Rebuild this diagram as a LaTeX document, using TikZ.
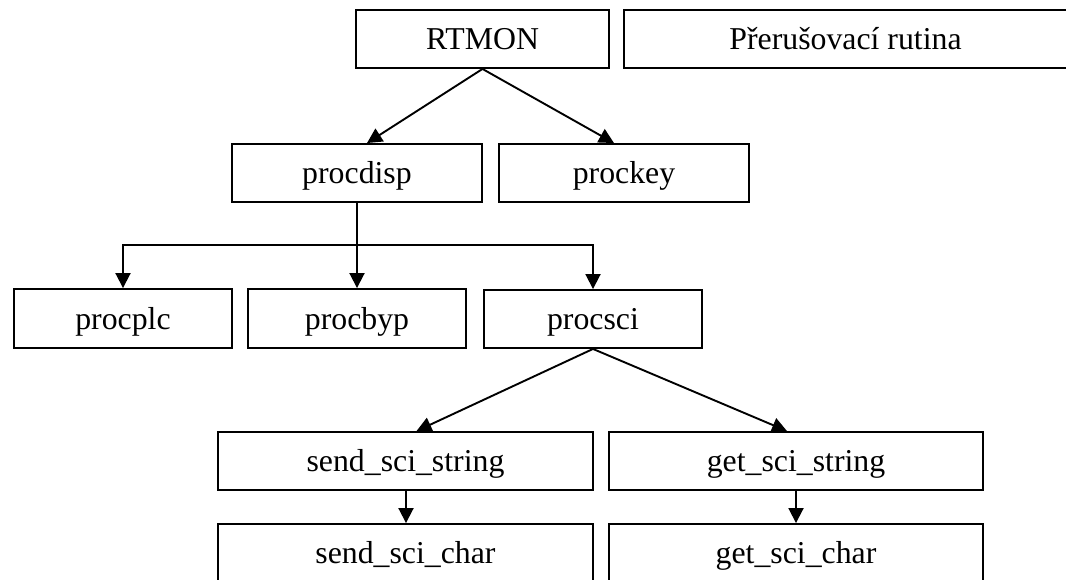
\documentclass[tikz,border=0pt]{standalone}
\usepackage{fontspec}
\setmainfont{Liberation Serif}
\usetikzlibrary{arrows.meta}
\begin{document}
\begin{tikzpicture}[x=1pt,y=-1pt,
  box/.style={draw=black,line width=1.9pt,inner sep=0pt,minimum height=58pt,
    text height=21pt,text depth=0pt,
    font=\fontsize{31.8}{38}\selectfont},
  arr/.style={line width=1.9pt,-{Triangle[length=15pt,width=15pt]}}]
\useasboundingbox (0,0) rectangle (1066,580);
\clip (0,0) rectangle (1066,580);
\node[box,minimum width=253pt] (rtmon) at (482.5,39) {RTMON};
\node[box,minimum width=443pt] (prer) at (845.5,39) {Přerušovací rutina};
\node[box,minimum width=250pt] (procdisp) at (357,173) {procdisp};
\node[box,minimum width=250pt] (prockey) at (624,173) {prockey};
\node[box,minimum width=218pt,minimum height=59pt] (procplc) at (123,318.5) {procplc};
\node[box,minimum width=218pt,minimum height=59pt] (procbyp) at (357,318.5) {procbyp};
\node[box,minimum width=218pt] (procsci) at (593,319) {procsci};
\node[box,minimum width=375pt] (sendstr) at (405.5,461) {send\_sci\_string};
\node[box,minimum width=374pt] (getstr) at (796,461) {get\_sci\_string};
\node[box,minimum width=375pt] (sendchr) at (405.5,553) {send\_sci\_char};
\node[box,minimum width=374pt] (getchr) at (796,553) {get\_sci\_char};
\coordinate (bus) at (357,245);
\draw[arr] (rtmon.south) -- ([xshift=10pt]procdisp.north);
\draw[arr] (rtmon.south) -- ([xshift=-10pt]prockey.north);
\draw[arr] (procdisp.south) -- (procbyp.north);
\draw[arr] (bus) -| (procplc.north);
\draw[arr] (bus) -| (procsci.north);
\draw[arr] (procsci.south) -- ([xshift=11pt]sendstr.north);
\draw[arr] (procsci.south) -- ([xshift=-9pt]getstr.north);
\draw[arr] ([xshift=0.5pt]sendstr.south) -- ([xshift=0.5pt]sendchr.north);
\draw[arr] (getstr.south) -- (getchr.north);
\end{tikzpicture}
\end{document}
